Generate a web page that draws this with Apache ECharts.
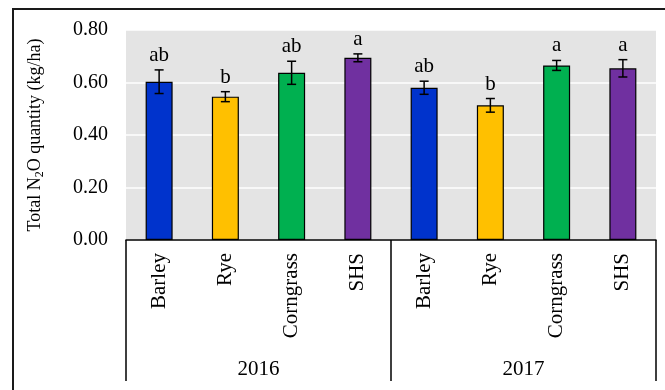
<!DOCTYPE html>
<html>
<head>
<meta charset="utf-8">
<script src="https://cdn.jsdelivr.net/npm/echarts@6/dist/echarts.min.js"></script>
<style>
  html, body { margin: 0; padding: 0; background: #fff; }
  #chart { width: 665px; height: 390px; }
</style>
</head>
<body>
<div id="chart"></div>
<script>
// Crops grouped by year
const years = ['2016', '2017'];
const crops = ['Barley', 'Rye', 'Corngrass', 'SHS'];
const categories = ['Barley', 'Rye', 'Corngrass', 'SHS', 'Barley', 'Rye', 'Corngrass', 'SHS'];
// Mean total N2O (kg/ha) and standard error
const means = [0.603, 0.546, 0.637, 0.694, 0.580, 0.513, 0.665, 0.654];
const errors = [0.045, 0.019, 0.044, 0.015, 0.025, 0.026, 0.019, 0.033];
// Significance letters
const letters = ['ab', 'b', 'ab', 'a', 'ab', 'b', 'a', 'a'];
// Y axis ticks
const yMin = 0, yMax = 0.8, yStep = 0.2;

const cropColors = ['#0033CC', '#FFC000', '#00B050', '#7030A0'];
const FONT = "'Liberation Serif', 'Times New Roman', serif";

const chart = echarts.init(document.getElementById('chart'), null, { renderer: 'canvas' });

const barData = means.map((v, i) => ({
  value: v,
  itemStyle: { color: cropColors[i % crops.length] }
}));

const errData = means.map((v, i) => [i, v - errors[i], v + errors[i], letters[i]]);

chart.setOption({
  animation: false,
  backgroundColor: '#fff',
  textStyle: { fontFamily: FONT },
  graphic: [{
    type: 'rect',
    shape: { x: 13, y: 9, width: 700, height: 420 },
    style: { fill: 'none', stroke: '#1a1a1a', lineWidth: 2 },
    silent: true
  }],
  grid: {
    left: 126, right: 9, top: 30, bottom: 150,
    show: true, backgroundColor: '#E4E4E4', borderWidth: 0
  },
  xAxis: [{
    type: 'category',
    data: categories,
    axisLine: { show: true, lineStyle: { color: '#000', width: 1.5 } },
    axisTick: { show: false },
    axisLabel: { rotate: 90, margin: 13, fontSize: 21, color: '#000', fontFamily: FONT, interval: 0 },
    splitLine: { show: false }
  }, {
    type: 'category',
    data: years,
    position: 'bottom',
    axisLine: { show: false },
    axisTick: { show: true, length: 141, lineStyle: { color: '#000', width: 1.5 } },
    axisLabel: { margin: 119, fontSize: 21, color: '#000', fontFamily: FONT },
    splitLine: { show: false }
  }],
  yAxis: {
    type: 'value',
    min: yMin, max: yMax, interval: yStep,
    axisLine: { show: false },
    axisTick: { show: false },
    axisLabel: {
      margin: 18, fontSize: 20, color: '#000', fontFamily: FONT,
      padding: [4, 0, 0, 0],
      formatter: v => v.toFixed(2)
    },
    splitLine: { show: true, lineStyle: { color: '#fff', width: 1.5 } },
    name: '{a|Total N}{s|2}{a|O quantity (kg/ha)}',
    nameLocation: 'middle',
    nameRotate: 90,
    nameGap: 80,
    nameTextStyle: {
      fontFamily: FONT,
      rich: {
        a: { fontSize: 18, color: '#000', fontFamily: FONT, lineHeight: 22 },
        s: { fontSize: 12, color: '#000', fontFamily: FONT, lineHeight: 22, verticalAlign: 'bottom', padding: [7, 0, 0, 0] }
      }
    }
  },
  series: [{
    type: 'bar',
    xAxisIndex: 0,
    data: barData,
    barWidth: 27,
    itemStyle: { borderColor: '#000', borderWidth: 1.2 }
  }, {
    type: 'custom',
    xAxisIndex: 0,
    data: errData,
    z: 10,
    renderItem: function (params, api) {
      const x = api.value(0);
      const lo = api.coord([x, api.value(1)]);
      const hi = api.coord([x, api.value(2)]);
      const cap = 4.5;
      const style = { stroke: '#000', lineWidth: 1.5 };
      return {
        type: 'group',
        children: [
          { type: 'line', shape: { x1: hi[0], y1: hi[1], x2: lo[0], y2: lo[1] }, style },
          { type: 'line', shape: { x1: hi[0] - cap, y1: hi[1], x2: hi[0] + cap, y2: hi[1] }, style },
          { type: 'line', shape: { x1: lo[0] - cap, y1: lo[1], x2: lo[0] + cap, y2: lo[1] }, style },
          {
            type: 'text',
            x: hi[0], y: hi[1] - 4,
            style: {
              text: api.value(3),
              fontSize: 21, fontFamily: FONT, fill: '#000',
              align: 'center', verticalAlign: 'bottom'
            }
          }
        ]
      };
    }
  }]
});
</script>
</body>
</html>
